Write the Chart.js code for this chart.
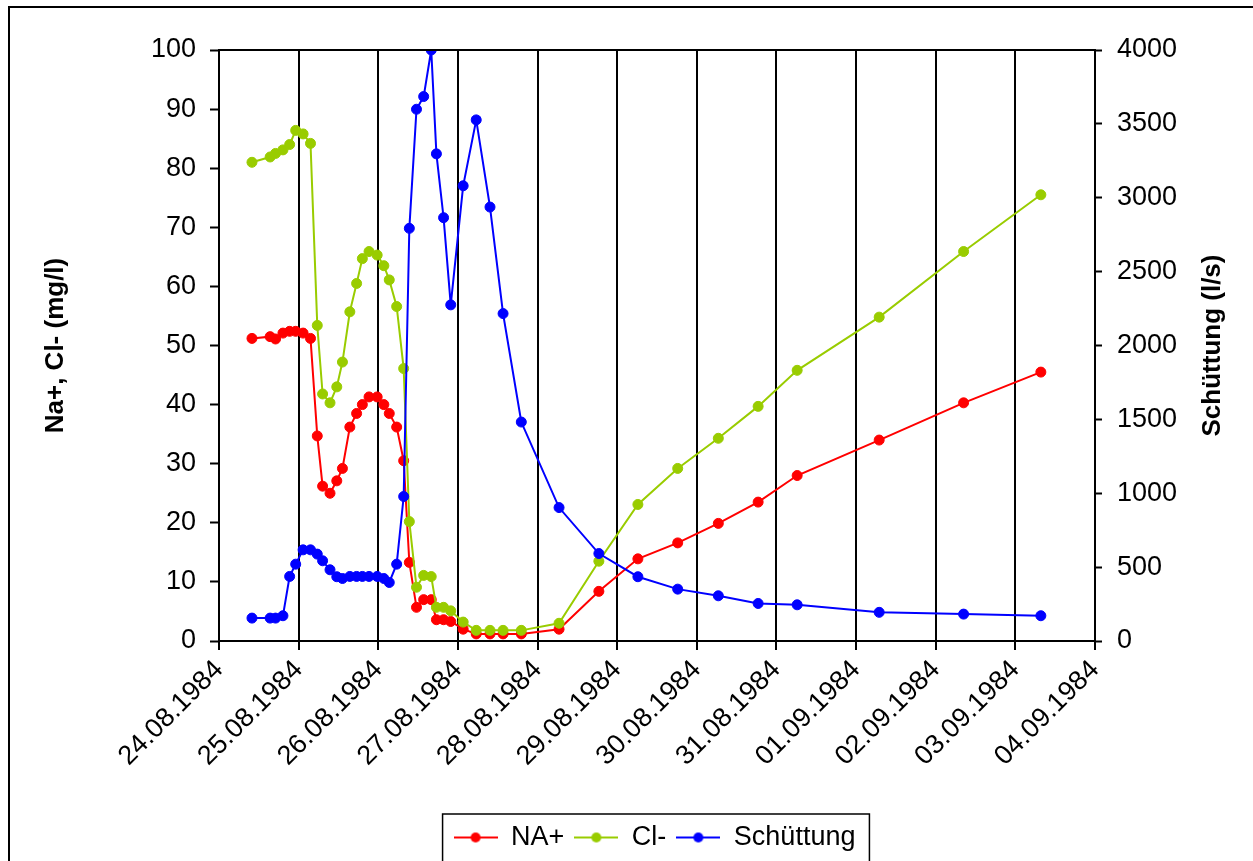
<!DOCTYPE html>
<html>
<head>
<meta charset="utf-8">
<title>Na+, Cl- und Schüttung</title>
<script src="https://cdn.jsdelivr.net/npm/chart.js@4/dist/chart.umd.min.js"></script>
<style>
  html, body { margin: 0; padding: 0; background: #fff; }
</style>
</head>
<body>
<canvas id="chemChart" width="1253" height="861"></canvas>
<script>
// sample times, in days after 24.08.1984 00:00
var days = [0.414, 0.642, 0.710, 0.803, 0.887, 0.963, 1.056, 1.149,
  1.234, 1.301, 1.394, 1.479, 1.550, 1.643, 1.728, 1.800, 1.884, 1.986,
  2.070, 2.138, 2.231, 2.319, 2.390, 2.480, 2.570, 2.665, 2.730, 2.820, 2.910,
  3.066, 3.230, 3.403, 3.567, 3.796, 4.27, 4.77, 5.26, 5.76, 6.27, 6.77,
  7.26, 8.29, 9.35, 10.32];

var naValues = [51.2, 51.5, 51.1, 52.1, 52.4, 52.4, 52.1, 51.2,
  34.7, 26.2, 25.0, 27.1, 29.2, 36.2, 38.5, 40.0, 41.3, 41.3,
  40.0, 38.5, 36.2, 30.5, 13.3, 5.7, 7.0, 7.0, 3.6, 3.6, 3.3,
  2.0, 1.2, 1.2, 1.2, 1.2, 2.0, 8.4, 13.9, 16.6, 19.9, 23.5,
  28.0, 34.0, 40.3, 45.5];

var clValues = [81.0, 81.9, 82.5, 83.1, 84.0, 86.4, 85.8, 84.2,
  53.4, 41.8, 40.3, 43.0, 47.2, 55.7, 60.5, 64.7, 65.9, 65.3,
  63.5, 61.1, 56.6, 46.1, 20.2, 9.1, 11.1, 10.9, 5.7, 5.7, 5.1,
  3.2, 1.8, 1.8, 1.8, 1.8, 3.0, 13.5, 23.1, 29.2, 34.3, 39.7,
  45.8, 54.8, 65.9, 75.5];

var flowValues = [155, 155, 155, 171, 437, 520, 617, 617,
  588, 543, 482, 435, 423, 437, 437, 437, 437, 437,
  423, 396, 520, 978, 2793, 3599, 3685, 4000, 3297, 2865, 2275,
  3081, 3527, 2937, 2216, 1482, 903, 592, 435, 351, 306, 254,
  245, 194, 182, 171];

var dayLabels = ['24.08.1984', '25.08.1984', '26.08.1984', '27.08.1984',
  '28.08.1984', '29.08.1984', '30.08.1984', '31.08.1984', '01.09.1984',
  '02.09.1984', '03.09.1984', '04.09.1984'];

var FONT = '"Liberation Sans", Arial, sans-serif';
Chart.defaults.font.family = FONT;
Chart.defaults.font.size = 27;
Chart.defaults.color = '#000';

function toPoints(values) {
  return values.map(function (v, i) { return { x: days[i], y: v }; });
}

// little line-with-dot picture for the legend
function legendMarker(color) {
  var c = document.createElement('canvas');
  c.width = 44;
  c.height = 12;
  var g = c.getContext('2d');
  g.strokeStyle = color;
  g.lineWidth = 2;
  g.beginPath();
  g.moveTo(0, 6);
  g.lineTo(44, 6);
  g.stroke();
  g.fillStyle = color;
  g.beginPath();
  g.arc(22, 6, 5, 0, Math.PI * 2);
  g.fill();
  return c;
}

function series(label, values, color, axis, order) {
  return {
    label: label,
    data: toPoints(values),
    yAxisID: axis,
    order: order,
    borderColor: color,
    backgroundColor: color,
    borderWidth: 2,
    pointRadius: 5,
    pointHoverRadius: 5,
    pointBorderWidth: 1,
    pointBorderColor: color,
    pointBackgroundColor: color,
    tension: 0,
  };
}

var framePlugin = {
  id: 'frame',
  afterDraw: function (chart) {
    var ctx = chart.ctx;
    var a = chart.chartArea;
    ctx.save();
    ctx.strokeStyle = '#000';
    ctx.lineWidth = 2;
    // plot frame
    ctx.strokeRect(a.left, a.top, a.right - a.left, a.bottom - a.top);
    // outer chart border
    ctx.strokeRect(9, 7, 1300, 900);
    // legend box
    var hb = chart.legend.legendHitBoxes;
    if (hb.length) {
      var first = hb[0], last = hb[hb.length - 1];
      var lx = first.left - 11;
      var rx = last.left + last.width + 14;
      ctx.lineWidth = 1.5;
      ctx.strokeRect(lx, first.top - 10, rx - lx, 80);
    }
    // right axis title, reading bottom to top
    ctx.fillStyle = '#000';
    ctx.font = 'bold 26px ' + FONT;
    ctx.textAlign = 'center';
    ctx.textBaseline = 'middle';
    ctx.translate(1213, (a.top + a.bottom) / 2);
    ctx.rotate(-Math.PI / 2);
    ctx.fillText('Schüttung (l/s)', 0, 0);
    ctx.restore();
  },
};

var ctx = document.getElementById('chemChart').getContext('2d');

var chemChart = new Chart(ctx, {
  type: 'line',
  data: {
    datasets: [
      series('NA+', naValues, '#FF0000', 'y', 2),
      series('Cl-', clValues, '#99CC00', 'y', 1),
      series('Schüttung', flowValues, '#0000FF', 'y2', 0),
    ],
  },
  options: {
    responsive: false,
    animation: false,
    layout: {
      padding: { left: 56, right: 0, top: 50, bottom: 0 },
    },
    plugins: {
      tooltip: { enabled: false },
      legend: {
        position: 'bottom',
        labels: {
          usePointStyle: true,
          pointStyleWidth: 44,
          padding: 10,
          font: { size: 27 },
          generateLabels: function (chart) {
            return chart.data.datasets.map(function (ds, i) {
              return {
                text: ds.label,
                datasetIndex: i,
                pointStyle: legendMarker(ds.borderColor),
                fillStyle: ds.borderColor,
                strokeStyle: ds.borderColor,
                lineWidth: 0,
                fontColor: '#000',
                hidden: false,
              };
            });
          },
        },
      },
    },
    scales: {
      x: {
        type: 'linear',
        min: 0,
        max: 11,
        afterFit: function (scale) { scale.height = 173; },
        ticks: {
          stepSize: 1,
          autoSkip: false,
          minRotation: 45,
          maxRotation: 45,
          padding: 4,
          callback: function (value) { return dayLabels[value]; },
        },
        grid: {
          color: '#000',
          lineWidth: 2,
          drawTicks: true,
          tickLength: 9,
          tickColor: '#000',
        },
        border: { color: '#000', width: 2 },
      },
      y: {
        position: 'left',
        min: 0,
        max: 100,
        afterFit: function (scale) { scale.width = 219 - 56; },
        ticks: {
          stepSize: 10,
          padding: 14,
          callback: function (value) { return String(value); },
        },
        grid: {
          drawOnChartArea: false,
          tickLength: 9,
          tickColor: '#000',
          tickWidth: 2,
        },
        border: { color: '#000', width: 2 },
        title: {
          display: true,
          text: 'Na+, Cl- (mg/l)',
          font: { size: 26, weight: 'bold' },
          padding: { top: -16, bottom: 0 },
        },
      },
      y2: {
        position: 'right',
        min: 0,
        max: 4000,
        afterFit: function (scale) { scale.width = 1253 - 1095; },
        ticks: {
          stepSize: 500,
          padding: 15,
          callback: function (value) { return String(value); },
        },
        grid: {
          drawOnChartArea: false,
          tickLength: 7,
          tickColor: '#000',
          tickWidth: 2,
        },
        border: { color: '#000', width: 2 },
      },
    },
  },
  plugins: [framePlugin],
});
</script>
</body>
</html>
